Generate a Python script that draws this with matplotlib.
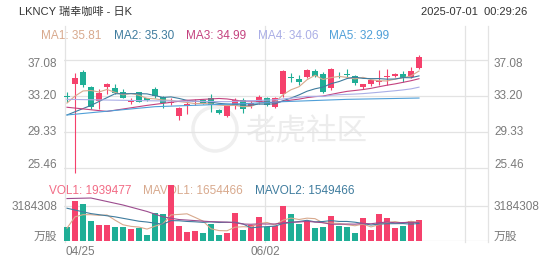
import matplotlib
matplotlib.use("Agg")
import matplotlib.pyplot as plt
import matplotlib.transforms as mtransforms
from matplotlib.patches import Circle
import pandas as pd

plt.rcParams['font.family'] = ['Liberation Sans', 'Noto Sans CJK SC', 'DejaVu Sans']

# daily bars, 04/25 .. 06/30
date_labels = ['04/25', '06/02']
date_idx = [0, 25]

opens = [33.21, 34.47, 35.79, 34.14, 32.70, 34.21, 34.04, 33.67, 32.60, 33.61,
         32.96, 33.96, 33.13, 32.45, 31.09, 32.13, 32.56, 32.78, 32.96, 31.70,
         31.09, 32.24, 32.78, 32.13, 32.60, 32.99, 31.99, 33.42, 35.22, 35.09,
         35.20, 35.93, 35.61, 34.07, 35.50, 35.57, 35.36, 34.23, 34.47, 34.75,
         35.28, 35.41, 35.57, 35.28, 36.22]
highs = [33.64, 35.65, 36.00, 34.28, 33.91, 34.64, 34.50, 33.93, 33.03, 33.67,
         33.03, 34.14, 33.21, 33.00, 32.06, 32.67, 32.89, 32.89, 33.39, 31.76,
         32.24, 32.96, 32.96, 32.67, 33.32, 33.10, 33.10, 36.00, 35.63, 35.47,
         36.06, 36.08, 35.79, 36.19, 35.82, 36.11, 35.47, 34.55, 34.93, 36.00,
         36.11, 35.65, 35.90, 36.33, 37.67]
lows = [32.56, 24.93, 34.14, 31.81, 31.81, 33.42, 33.42, 32.96, 32.35, 32.53,
        32.70, 33.03, 31.89, 32.20, 30.68, 31.27, 32.24, 32.40, 31.49, 31.30,
        30.98, 31.81, 31.33, 31.92, 32.35, 32.13, 31.97, 33.10, 34.75, 34.39,
        35.18, 35.20, 33.53, 33.85, 35.14, 35.11, 34.39, 33.96, 34.28, 34.34,
        34.39, 35.25, 34.75, 35.14, 36.06]
closes = [33.10, 35.14, 34.34, 32.06, 33.56, 34.47, 33.56, 33.03, 32.78, 32.60,
          32.83, 33.26, 32.42, 32.60, 31.95, 32.35, 32.65, 32.51, 32.29, 31.35,
          32.08, 32.78, 31.81, 32.46, 33.13, 32.24, 32.99, 35.90, 35.14, 34.75,
          36.00, 35.41, 33.64, 36.11, 35.43, 35.47, 34.57, 34.50, 34.88, 34.82,
          35.36, 35.57, 35.18, 35.93, 37.43]
volumes = [1290000, 3650000, 3410000, 1850000, 1480000, 1480000, 1250000, 1250000,
           1110000, 1150000, 550000, 2580000, 2450000, 5170000, 1380000, 830000,
           920000, 740000, 1570000, 550000, 740000, 2580000, 970000, 1450000,
           2150000, 1230000, 1380000, 3230000, 2430000, 1500000, 1850000, 1140000,
           1290000, 2310000, 1360000, 1230000, 670000, 2060000, 990000, 2430000,
           2120000, 1200000, 1360000, 1820000, 1939477]

# moving-average values before the window fills
ma1_head_idx, ma1_head = [0, 1, 2, 3], [32.45, 33.20, 33.75, 33.80]
ma2_head_idx, ma2_head = [0, 3, 6], [31.17, 32.20, 33.45]
ma3_head_idx, ma3_head = [0, 5, 10, 15], [32.00, 31.55, 32.20, 32.75]
ma4_head_idx, ma4_head = [0, 10, 20, 26], [32.85, 32.70, 32.60, 32.80]
ma5_idx, ma5_vals = [0, 11, 23, 27, 35, 44], [31.17, 32.06, 32.42, 32.60, 32.85, 32.99]
mavol1_head_idx, mavol1_head = [0, 1, 2, 3], [1150000, 2200000, 2400000, 2400000]
mavol2_head_idx, mavol2_head = [0, 3, 6], [3000000, 2500000, 2200000]
mavol3_head_idx, mavol3_head = [0, 3, 7, 10, 12, 14, 18], [3900000, 3950000, 3300000, 2700000, 2200000, 1950000, 1750000]

price_ticks = [25.46, 29.33, 33.20, 37.08]
vol_tick = 3184308
ma_texts = ['MA1: 35.81', 'MA2: 35.30', 'MA3: 34.99', 'MA4: 34.06', 'MA5: 32.99']
ma_colors = ['#d8a98d', '#3f7c9e', '#c4427f', '#aaaee6', '#4f9fd8']
vol_texts = ['VOL1: 1939477', 'MAVOL1: 1654466', 'MAVOL2: 1549466']
vol_colors = ['#f26b85', '#d8a98d', '#3f7c9e']
mavol3_color = '#9c4c8e'
UP, DOWN = '#f5416c', '#1fae96'
GRID = '#e3e3e3'
TXT = '#7a7a7a'


def ma_line(values, n, head_idx, head_vals):
    s = pd.Series(values).rolling(n).mean()
    return list(head_idx) + list(range(n - 1, len(values))), list(head_vals) + list(s.iloc[n - 1:])


W, H = 552, 265
fig = plt.figure(figsize=(W / 100, H / 100), dpi=100)


def rect(x0, y0, x1, y1):
    return [x0 / W, 1 - y1 / H, (x1 - x0) / W, (y1 - y0) / H]


bg = fig.add_axes([0, 0, 1, 1])
bg.set_xlim(0, W)
bg.set_ylim(H, 0)
bg.axis('off')

ax = fig.add_axes(rect(64, 52, 488, 174))
vax = fig.add_axes(rect(64, 172, 488, 240.5))
px_per_dollar = 9.3
for a in (ax, vax):
    a.set_xlim(-0.375, 52.625)
    a.patch.set_visible(False)
    a.axis('off')
ax.set_ylim(price_ticks[-1] - (174 - 60) / px_per_dollar, price_ticks[-1] + (60 - 52) / px_per_dollar)
vax.set_ylim(0, 2 * vol_tick)

# watermark
bg.text(307, 132, '老虎社区', fontsize=22, color='#ececec', ha='center', va='center',
        family=['Noto Sans CJK SC'])
bg.add_patch(Circle((215, 129), 22, fill=False, ec='#efefef', lw=2.5))

# vertical grid lines (every 25 bars) and right edge
blend = mtransforms.blended_transform_factory(ax.transData, bg.transData)
for gx in [-0.25, 24.75, 49.75, 52.625]:
    bg.plot([gx, gx], [26, 242], color=GRID, lw=0.9, transform=blend)

# horizontal grid
for t in price_ticks:
    ax.axhline(t, color=GRID, lw=0.9, zorder=0)
vax.axhline(vol_tick, color=GRID, lw=0.9, zorder=0)
vax.axhline(0, color=GRID, lw=0.9, zorder=0)

# candles
n = len(closes)
idx = list(range(n))
colors = [UP if c >= o else DOWN for o, c in zip(opens, closes)]
ax.vlines(idx, lows, highs, colors=colors, lw=0.8, zorder=2)
bodies = [max(abs(c - o), 0.08) for o, c in zip(opens, closes)]
bottoms = [min(o, c) for o, c in zip(opens, closes)]
ax.bar(idx, bodies, bottom=bottoms, width=0.7, color=colors, zorder=3)

# price moving averages
for (x, y), col in zip([ma_line(closes, 5, ma1_head_idx, ma1_head),
                        ma_line(closes, 10, ma2_head_idx, ma2_head),
                        ma_line(closes, 20, ma3_head_idx, ma3_head),
                        ma_line(closes, 30, ma4_head_idx, ma4_head),
                        (ma5_idx, ma5_vals)], ma_colors):
    ax.plot(x, y, color=col, lw=0.8, zorder=4)

# volume
vax.bar(idx, volumes, width=0.75, color=colors, zorder=2)
for (x, y), col in zip([ma_line(volumes, 5, mavol1_head_idx, mavol1_head),
                        ma_line(volumes, 10, mavol2_head_idx, mavol2_head),
                        ma_line(volumes, 20, mavol3_head_idx, mavol3_head)],
                       vol_colors[1:] + [mavol3_color]):
    vax.plot(x, y, color=col, lw=0.8, zorder=3)

# price axis labels (left and right)
offsets = [3, 0, 0, -4]
for t, dy in zip(price_ticks, offsets):
    for xf, ha, dx in [(0, 'right', -7), (1, 'left', 6)]:
        ax.annotate(f'{t:.2f}', xy=(xf, t), xycoords=('axes fraction', 'data'),
                    xytext=(dx, dy), textcoords='offset pixels', ha=ha, va='center',
                    fontsize=8.5, color=TXT)
for xf, ha, dx in [(0, 'right', -7), (1, 'left', 6)]:
    vax.annotate(str(vol_tick), xy=(xf, vol_tick), xycoords=('axes fraction', 'data'),
                 xytext=(dx, -1), textcoords='offset pixels', ha=ha, va='center',
                 fontsize=8.5, color=TXT)
    vax.annotate('万股', xy=(xf, 0), xycoords=('axes fraction', 'data'),
                 xytext=(dx, 4), textcoords='offset pixels', ha=ha, va='center',
                 fontsize=8.5, color=TXT)

# date labels
for lab, i in zip(date_labels, date_idx):
    x = i - 0.25
    ha = 'left' if i == 0 else 'center'
    bg.text(x, 252, lab, transform=blend, ha=ha, va='center', fontsize=8.5, color=TXT)

# header
bg.text(19, 12, 'LKNCY 瑞幸咖啡 - 日K', ha='left', va='center', fontsize=8, color='#333333')
bg.text(527, 12, '2025-07-01  00:29:26', ha='right', va='center', fontsize=8, color='#333333')

for txt, col, x in zip(ma_texts, ma_colors, [41, 114, 186, 258, 329]):
    bg.text(x, 36, txt, ha='left', va='center', fontsize=8.5, color=col)
for txt, col, x in zip(vol_texts, vol_colors, [49, 143, 255]):
    bg.text(x, 191, txt, ha='left', va='center', fontsize=8.5, color=col)

fig.savefig('out.png', dpi=100)
